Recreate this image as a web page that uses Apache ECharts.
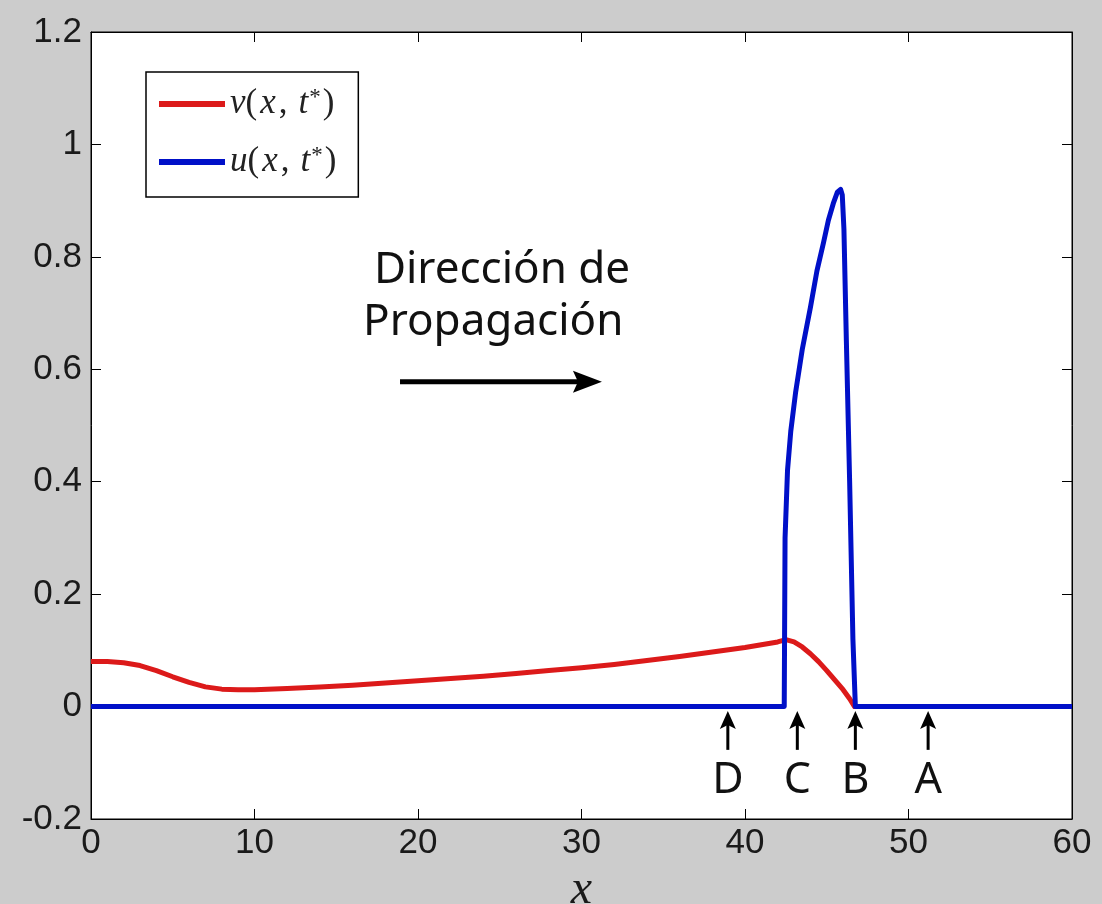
<!DOCTYPE html>
<html>
<head>
<meta charset="utf-8">
<script src="https://cdn.jsdelivr.net/npm/echarts@6/dist/echarts.min.js"></script>
<style>
  html, body { margin: 0; padding: 0; background: #cccccc; }
  #chart { width: 1102px; height: 904px; }
</style>
</head>
<body>
<div id="chart"></div>
<script>
// v(x, t*) profile
const vX = [0, 1, 2, 3, 4, 5, 6, 7, 8, 9, 10, 12, 14, 16, 18, 20, 22, 24, 26, 28, 30, 32, 34, 36, 38, 40, 41, 42, 42.5, 43, 43.5, 44, 44.5, 45, 45.5, 46, 46.4, 46.7, 48, 50, 55, 60];
const vY = [0.080, 0.080, 0.078, 0.073, 0.064, 0.053, 0.043, 0.035, 0.031, 0.030, 0.030, 0.032, 0.035, 0.038, 0.042, 0.046, 0.050, 0.054, 0.059, 0.064, 0.069, 0.075, 0.082, 0.089, 0.097, 0.105, 0.110, 0.115, 0.119, 0.115, 0.106, 0.094, 0.080, 0.064, 0.047, 0.030, 0.014, 0, 0, 0, 0, 0];

// u(x, t*) profile (pulse)
const uX = [0, 42.4, 42.45, 42.6, 42.8, 43.1, 43.5, 44.0, 44.4, 44.8, 45.1, 45.4, 45.65, 45.85, 45.95, 46.05, 46.2, 46.4, 46.6, 46.75, 60];
const uY = [0, 0, 0.30, 0.42, 0.49, 0.56, 0.635, 0.71, 0.775, 0.825, 0.865, 0.895, 0.915, 0.92, 0.91, 0.85, 0.65, 0.40, 0.12, 0, 0];

const seriesNames = ['v(x,t*)', 'u(x,t*)'];
const seriesColors = ['#dc1a1a', '#0010c8'];

// point markers under the axis
const markerLabels = ['D', 'C', 'B', 'A'];
const markerX = [38.95, 43.2, 46.75, 51.2];

// axis ranges
const xMin = 0, xMax = 60, xStep = 10;
const yMin = -0.2, yMax = 1.2, yStep = 0.2;

const zip = (xs, ys) => xs.map((x, i) => [x, ys[i]]);

const chart = echarts.init(document.getElementById('chart'), null, { renderer: 'canvas' });

const tickFont = { fontFamily: 'Liberation Sans, Arial, sans-serif', fontSize: 35, color: '#1a1a1a' };

const serif = 'Liberation Serif, serif';
const legendRich = {
  m: { fontFamily: serif, fontStyle: 'italic', fontSize: 35, color: '#222' },
  mp: { fontFamily: serif, fontStyle: 'italic', fontSize: 35, color: '#222', padding: [0, 3, 0, 3] },
  r: { fontFamily: serif, fontSize: 35, color: '#222' },
  c: { fontFamily: serif, fontSize: 35, color: '#222', padding: [0, 11, 0, 0] },
  s: { fontFamily: serif, fontSize: 23, color: '#222', verticalAlign: 'top', padding: [0, 2, 14, 1] }
};
function legendText(name) {
  const f = name.charAt(0);
  return '{m|' + f + '}{r|(}{mp|x}{c|,}{m|t}{s|*}{r|)}';
}

const option = {
  backgroundColor: '#cccccc',
  animation: false,
  grid: {
    left: 91, right: 30, top: 32, bottom: 85,
    outerBoundsMode: 'none',
    containLabel: false,
    show: true, backgroundColor: '#ffffff', borderColor: '#000', borderWidth: 1
  },
  legend: {
    orient: 'vertical',
    left: 146, top: 72,
    data: seriesNames,
    backgroundColor: '#ffffff',
    borderColor: '#000', borderWidth: 1.5,
    padding: [14, 22, 17, 13],
    itemGap: 22,
    itemWidth: 66, itemHeight: 6,
    icon: 'rect',
    formatter: legendText,
    textStyle: { rich: legendRich, lineHeight: 36 }
  },
  xAxis: [{
    type: 'value', min: xMin, max: xMax, interval: xStep,
    position: 'bottom',
    name: 'x', nameLocation: 'middle', nameGap: 33,
    nameTextStyle: { fontFamily: serif, fontStyle: 'italic', fontSize: 48, color: '#1a1a1a' },
    axisLine: { show: true, onZero: false, lineStyle: { color: '#000', width: 1 } },
    axisTick: { show: true, inside: true, length: 10, lineStyle: { color: '#000' } },
    axisLabel: Object.assign({ margin: 7 }, tickFont),
    splitLine: { show: false }
  }, {
    type: 'value', min: xMin, max: xMax, interval: xStep,
    position: 'top',
    axisLine: { show: true, onZero: false, lineStyle: { color: '#000', width: 1 } },
    axisTick: { show: true, inside: true, length: 10, lineStyle: { color: '#000' } },
    axisLabel: { show: false },
    splitLine: { show: false }
  }],
  yAxis: [{
    type: 'value', min: yMin, max: yMax, interval: yStep,
    position: 'left',
    axisLine: { show: true, onZero: false, lineStyle: { color: '#000', width: 1 } },
    axisTick: { show: true, inside: true, length: 10, lineStyle: { color: '#000' } },
    axisLabel: Object.assign({ margin: 9, formatter: v => String(Math.round(v * 10) / 10) }, tickFont),
    splitLine: { show: false }
  }, {
    type: 'value', min: yMin, max: yMax, interval: yStep,
    position: 'right',
    axisLine: { show: true, onZero: false, lineStyle: { color: '#000', width: 1 } },
    axisTick: { show: true, inside: true, length: 10, lineStyle: { color: '#000' } },
    axisLabel: { show: false },
    splitLine: { show: false }
  }],
  series: [{
    name: seriesNames[0], type: 'line', data: zip(vX, vY),
    showSymbol: false, smooth: false,
    itemStyle: { color: seriesColors[0] },
    lineStyle: { color: seriesColors[0], width: 5, join: 'round' },
    z: 2
  }, {
    name: seriesNames[1], type: 'line', data: zip(uX, uY),
    showSymbol: false, smooth: false,
    itemStyle: { color: seriesColors[1] },
    lineStyle: { color: seriesColors[1], width: 5, join: 'round' },
    z: 3
  }]
};

chart.setOption(option);

// annotations positioned in data coordinates
function px(x, y) { return chart.convertToPixel({ gridIndex: 0 }, [x, y]); }

const annoFont = 'Noto Sans, Open Sans, sans-serif';
const graphics = [];

// direction text and arrow
const t1 = px(25.14, 0.775);
const t2 = px(24.6, 0.683);
graphics.push({ type: 'text', x: t1[0], y: t1[1], z: 10,
  style: { text: 'Dirección de', font: '44px ' + annoFont, fill: '#111', align: 'center', verticalAlign: 'middle' } });
graphics.push({ type: 'text', x: t2[0], y: t2[1], z: 10,
  style: { text: 'Propagación', font: '44px ' + annoFont, fill: '#111', align: 'center', verticalAlign: 'middle' } });

const a0 = px(18.9, 0.578), a1 = px(31.25, 0.578);
graphics.push({ type: 'line', z: 10, shape: { x1: a0[0], y1: a0[1], x2: a1[0] - 20, y2: a1[1] },
  style: { stroke: '#000', lineWidth: 5 } });
graphics.push({ type: 'polygon', z: 10,
  shape: { points: [[a1[0], a1[1]], [a1[0] - 29, a1[1] - 11], [a1[0] - 24, a1[1]], [a1[0] - 29, a1[1] + 11]] },
  style: { fill: '#000' } });

// point markers with up arrows
markerLabels.forEach((lab, i) => {
  const tip = px(markerX[i], -0.008);
  const tail = px(markerX[i], -0.077);
  const txt = px(markerX[i], -0.132);
  graphics.push({ type: 'line', z: 10, shape: { x1: tail[0], y1: tail[1], x2: tip[0], y2: tip[1] + 10 },
    style: { stroke: '#000', lineWidth: 3 } });
  graphics.push({ type: 'polygon', z: 10,
    shape: { points: [[tip[0], tip[1]], [tip[0] - 8, tip[1] + 18], [tip[0], tip[1] + 14], [tip[0] + 8, tip[1] + 18]] },
    style: { fill: '#000' } });
  graphics.push({ type: 'text', x: txt[0], y: txt[1], z: 10,
    style: { text: lab, font: '43px ' + annoFont, fill: '#111', align: 'center', verticalAlign: 'middle' } });
});

chart.setOption({ graphic: graphics });
</script>
</body>
</html>
